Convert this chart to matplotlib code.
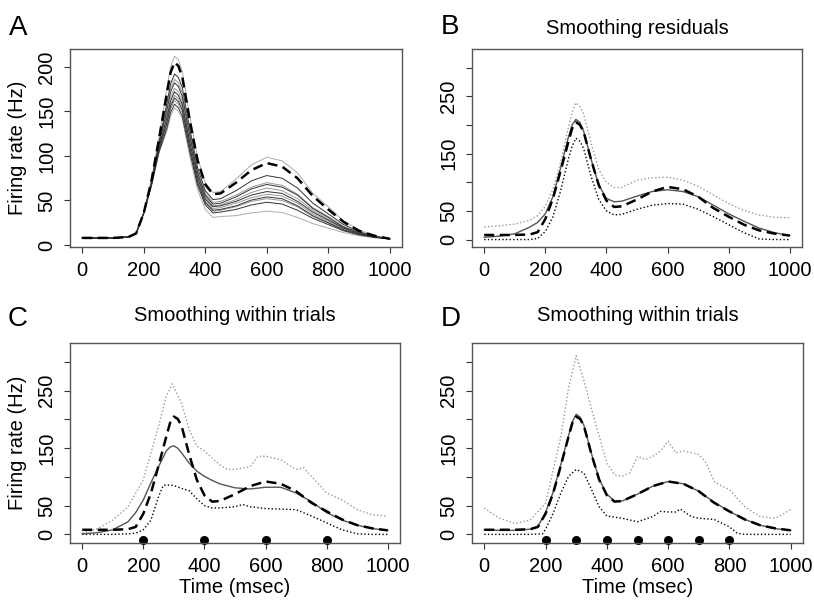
import matplotlib
matplotlib.use('Agg')
import matplotlib.pyplot as plt

plt.rcParams['font.family'] = ['Liberation Sans', 'DejaVu Sans']

# time grid (msec) used for the smooth curves
t_grid = [0, 50, 100, 150, 175, 200, 225, 250, 275, 287.5, 300, 312.5, 325, 350, 375, 400,
          425, 450, 500, 550, 600, 650, 700, 750, 800, 850, 900, 950, 1000]

# panel A: individual rate curves
a_curves = [
    [8, 8, 8, 9, 13, 36, 73, 122, 176, 200, 212, 208, 195, 144, 98, 70, 59, 60, 74, 90, 98.5, 94.5, 81, 58, 43, 27, 17, 10.7, 7],
    [8, 8, 8, 9, 13, 36, 71, 116, 159, 181, 192, 188, 177, 130, 87, 61, 51, 52, 61, 72, 78, 75, 64, 47, 35, 23, 15, 10, 7],
    [8, 8, 8, 9, 13, 36, 71, 114, 154, 176, 186, 182, 171, 125, 83, 58, 48, 49, 56, 65, 70, 67, 57, 42, 32, 21, 14, 9.5, 7],
    [8, 8, 8, 9, 13, 36, 70, 113, 151, 172, 182, 178, 167, 122, 81, 56, 46, 47, 54, 63, 68, 65, 56, 41, 31, 20, 14, 9.4, 7],
    [8, 8, 8, 9, 13, 36, 69, 111, 146, 166, 176, 172, 162, 117, 78, 54, 44, 45, 51, 59, 64, 61, 52, 39, 29, 19.5, 13, 9.3, 7],
    [8, 8, 8, 9, 13, 36, 69, 110, 143, 162, 172, 168, 158, 115, 76, 52, 43, 44, 49, 56, 60, 58, 49, 37, 28, 19, 13, 9, 7],
    [8, 8, 8, 9, 13, 36, 68, 108, 139, 158, 168, 164, 155, 112, 73, 50, 41, 42, 47, 53, 57, 55, 47, 35, 26.5, 18, 12.5, 9, 7],
    [8, 8, 8, 9, 13, 36, 68, 108, 137, 156, 165, 161, 152, 109, 71, 48, 39, 40, 44, 50.5, 54, 52, 44, 33, 25, 17, 12, 8.9, 7],
    [8, 8, 8, 9, 13, 36, 67, 107, 134, 153, 162, 158, 149, 107, 69.5, 47, 38, 39, 43, 49, 52, 50, 43, 32, 24.5, 17, 12, 8.8, 7],
    [8, 8, 8, 9, 13, 36, 67, 105, 131, 149, 158, 154, 145, 104, 67, 45, 36, 37, 40, 45, 48, 46, 39, 30, 23, 16, 11.5, 8.6, 7],
    [8, 8, 8, 9, 13, 36, 66, 104, 128, 145, 154, 150, 142, 99, 62, 40, 31, 32, 33, 36, 38, 36.5, 31, 24, 19, 14, 10.5, 8.2, 7],
]
a_colors = ['#aaaaaa', '#333333', '#999999', '#333333', '#999999', '#333333',
            '#999999', '#333333', '#999999', '#333333', '#aaaaaa']

# true rate (dashed curve in every panel)
true_rate = [8, 8, 8, 9, 13, 36, 72, 120, 170, 194, 205, 201, 189, 139, 95, 68, 57, 58, 70, 84, 92, 88, 75, 55, 40, 26, 16, 10.4, 7]

# panel B: smoothing residuals
b_fit = [4, 6, 10, 22, 30, 45, 75, 125, 178, 200, 210, 205, 190, 140, 95, 72, 66, 67, 76, 84, 87, 84, 75, 60, 45, 32, 20, 12, 7]
b_lower = [0, 0, 0, 0, 2, 14, 40, 85, 140, 163, 177, 172, 160, 110, 70, 50, 43, 44, 53, 60, 63, 62, 53, 40, 26, 12, 1, 0, 0]
b_upper = [22, 24, 27, 34, 42, 58, 88, 135, 195, 223, 239, 233, 220, 168, 122, 100, 91, 91, 104, 108, 109, 104, 93, 78, 63, 51, 43, 39, 38]

# panel C: smoothing within trials, 4 knots
c_fit = [1, 3, 8, 22, 38, 60, 90, 118, 145, 152, 154, 150, 142, 124, 110, 101, 94, 88, 81, 79, 82, 82, 72, 57, 38, 25, 16, 10, 7]
c_lower_t = [0, 100, 150, 175, 200, 225, 250, 265, 275, 300, 325, 350, 375, 400, 425, 450, 500, 525,
             550, 600, 650, 700, 750, 800, 850, 900, 950, 1000]
c_lower = [0, 0, 1, 2, 8, 25, 66, 85, 86, 85, 80, 76, 62, 50, 46, 46, 48, 52,
           48, 45, 44, 43, 32, 20, 8, 1, 0, 0]
c_upper_t = [0, 50, 100, 150, 200, 250, 275, 295, 325, 350, 375, 400, 450, 475, 500, 550, 575, 600,
             650, 700, 725, 750, 800, 850, 900, 950, 1000]
c_upper = [2, 10, 25, 48, 95, 189, 240, 262, 228, 183, 154, 145, 121, 113, 113, 118, 136, 136,
           130, 113, 116, 101, 72, 60, 43, 34, 32]
c_knots = [200, 400, 600, 800]

# panel D: smoothing within trials, 7 knots
d_fit = [8, 7, 7, 9, 14, 38, 74, 122, 172, 196, 209, 204, 190, 140, 96, 70, 58, 58, 70, 84, 92, 88, 75, 56, 40, 26, 16, 10, 7]
d_lower_t = [0, 150, 190, 200, 225, 250, 275, 300, 325, 350, 375, 400, 450, 500, 550, 575, 600, 625,
             640, 675, 700, 750, 800, 825, 850, 1000]
d_lower = [0, 0, 1, 9, 37, 72, 101, 113, 107, 78, 48, 32, 28, 22, 31, 40, 39, 39,
           44, 31, 28, 26, 13, 2, 0, 0]
d_upper_t = [0, 50, 100, 150, 200, 250, 275, 300, 325, 350, 400, 425, 450, 475, 500, 525, 550, 575,
             600, 625, 650, 700, 725, 750, 775, 800, 850, 900, 950, 1000]
d_upper = [46, 28, 19, 25, 54, 170, 255, 311, 268, 218, 124, 104, 101, 107, 136, 130, 136, 145,
           162, 142, 145, 139, 124, 92, 84, 78, 48, 31, 28, 43]
d_knots = [200, 300, 400, 500, 600, 700, 800]

x_ticks = [0, 200, 400, 600, 800, 1000]

W, H = 814, 607
fig = plt.figure(figsize=(W / 100, H / 100), dpi=100)


def make_ax(left, top, right, bottom):
    ax = fig.add_axes([left / W, 1 - bottom / H, (right - left) / W, (bottom - top) / H])
    for s in ax.spines.values():
        s.set_color('#555555')
        s.set_linewidth(1)
    ax.tick_params(direction='out', length=4, width=0.8, labelsize=14.5, pad=6, color='#333333')
    ax.set_xlim(-40, 1040)
    ax.set_xticks(x_ticks)
    return ax


def y_labels(ax, ticks, labels):
    ax.set_yticks(ticks)
    ax.set_yticklabels(labels, rotation=90, va='center')


dash = dict(color='black', lw=1.8, dashes=(4, 2.2))
dot_black = dict(color='black', lw=1.0, dashes=(1, 1.6))
dot_gray = dict(color='#999999', lw=1.0, dashes=(1, 1.6))
fit_style = dict(color='#555555', lw=1.0)

# A
axA = make_ax(70, 49, 402, 247)
for curve, col in zip(a_curves, a_colors):
    if col != '#333333':
        axA.plot(t_grid, curve, color=col, lw=0.7)
for curve, col in zip(a_curves, a_colors):
    if col == '#333333':
        axA.plot(t_grid, curve, color=col, lw=0.7)
axA.plot(t_grid, true_rate, **dash)
axA.set_ylim(-2.2, 220)
y_labels(axA, [0, 50, 100, 150, 200], ['0', '50', '100', '150', '200'])
axA.set_ylabel('Firing rate (Hz)', fontsize=14.5)
axA.yaxis.set_label_coords(-0.13, 0.5)

tick_b = [0, 50, 100, 150, 200, 250, 300]
lab_b = ['0', '50', '', '150', '', '250', '']

# B
axB = make_ax(472, 49, 802, 247)
axB.plot(t_grid, b_upper, **dot_gray)
axB.plot(t_grid, b_lower, **dot_black)
axB.plot(t_grid, b_fit, **fit_style)
axB.plot(t_grid, true_rate, **dash)
axB.set_ylim(-13, 333)
y_labels(axB, tick_b, lab_b)
axB.text(0.5, 1.106, 'Smoothing residuals', transform=axB.transAxes,
         ha='center', va='center', fontsize=14.5)

# C
axC = make_ax(70, 343, 400, 543)
axC.plot(c_upper_t, c_upper, **dot_gray)
axC.plot(c_lower_t, c_lower, **dot_black)
axC.plot(t_grid, c_fit, **fit_style)
axC.plot(t_grid, true_rate, **dash)
axC.plot(c_knots, [-10] * len(c_knots), 'o', color='black', ms=5.5, clip_on=False)
axC.set_ylim(-15, 333)
y_labels(axC, tick_b, lab_b)
axC.set_ylabel('Firing rate (Hz)', fontsize=14.5)
axC.yaxis.set_label_coords(-0.13, 0.5)
axC.set_xlabel('Time (msec)', fontsize=14.5)
axC.xaxis.set_label_coords(0.5, -0.175)
axC.text(0.5, 1.14, 'Smoothing within trials', transform=axC.transAxes,
         ha='center', va='center', fontsize=14.5)

# D
axD = make_ax(472, 343, 803, 543)
axD.plot(d_upper_t, d_upper, **dot_gray)
axD.plot(d_lower_t, d_lower, **dot_black)
axD.plot(t_grid, d_fit, **fit_style)
axD.plot(t_grid, true_rate, **dash)
axD.plot(d_knots, [-10] * len(d_knots), 'o', color='black', ms=5.5, clip_on=False)
axD.set_ylim(-15, 333)
y_labels(axD, tick_b, lab_b)
axD.set_xlabel('Time (msec)', fontsize=14.5)
axD.xaxis.set_label_coords(0.5, -0.175)
axD.text(0.5, 1.14, 'Smoothing within trials', transform=axD.transAxes,
         ha='center', va='center', fontsize=14.5)

# panel letters
for x, y, s in [(9, 35, 'A'), (441, 34, 'B'), (8, 326, 'C'), (441, 326, 'D')]:
    fig.text(x / W, 1 - y / H, s, fontsize=20, va='baseline', ha='left')

fig.savefig('out.png', dpi=100)
